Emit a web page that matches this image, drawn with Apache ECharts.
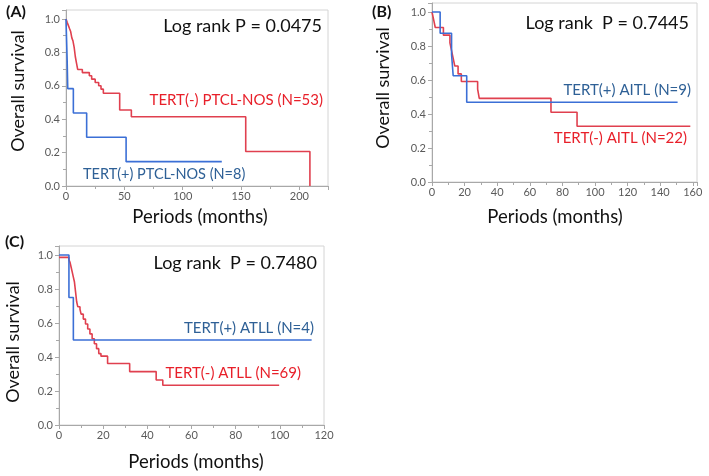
<!DOCTYPE html>
<html><head><meta charset="utf-8">
<script src="https://cdn.jsdelivr.net/npm/echarts@6/dist/echarts.min.js"></script>
<style>html,body{margin:0;padding:0;background:#fff}#c{width:709px;height:476px}</style>
</head><body><div id="c"></div>
<script>
// ---- Data (Kaplan–Meier step points: [months, survival]) ----
const redA = [[0,1.0],[1,0.98],[2,0.962],[3,0.943],[4,0.925],[5,0.887],[6,0.868],[7,0.83],[8,0.774],[9,0.736],[10,0.698],[14,0.679],[20,0.66],[22,0.64],[25,0.62],[28,0.60],[30,0.58],[32,0.555],[46,0.455],[56,0.415],[154,0.207],[209,0]];
const blueA = [[0,1.0],[0.5,0.875],[1,0.75],[1.5,0.583],[6.3,0.4375],[17.7,0.2917],[51.5,0.1458],[133.5,0.1458]];
const redB = [[0,1.0],[1,0.955],[2,0.909],[7,0.864],[11,0.818],[12,0.773],[13,0.727],[14,0.682],[16,0.636],[18,0.591],[28,0.546],[29,0.492],[73,0.41],[89,0.328],[158.5,0.328]];
const blueB = [[0,1.0],[5,0.875],[12,0.75],[13,0.625],[21.3,0.469],[150.7,0.469]];
const redC = [[0,0.986],[4.5,0.971],[5,0.957],[5.5,0.928],[6,0.899],[6.5,0.87],[7,0.841],[7.5,0.783],[8,0.725],[8.5,0.696],[9.5,0.681],[10,0.652],[11,0.623],[12,0.594],[13,0.565],[14,0.536],[15,0.507],[16,0.478],[17,0.449],[18,0.42],[19,0.405],[22,0.362],[32,0.314],[44,0.265],[47,0.234],[99.7,0.234]];
const blueC = [[0,1.0],[4.5,0.75],[6.5,0.5],[114.4,0.5]];

const panelTags = ['(A)','(B)','(C)'];
const logRank = ['Log rank P = 0.0475','Log rank  P = 0.7445','Log rank  P = 0.7480'];
const redNames = ['TERT(-) PTCL-NOS (N=53)','TERT(-) AITL (N=22)','TERT(-) ATLL (N=69)'];
const blueNames = ['TERT(+) PTCL-NOS (N=8)','TERT(+) AITL (N=9)','TERT(+) ATLL (N=4)'];
const xMax = [224.5, 162.6, 120];
const xInterval = [50, 20, 20];
const yTicks = [0, 0.2, 0.4, 0.6, 0.8, 1.0];
const yAxisName = 'Overall survival';
const xAxisName = 'Periods (months)';

const RED = '#e0404f', REDT = '#e8202a', BLUE = '#3b6fd6', BLUET = '#2e6096';
const FONT = 'Lato, "Open Sans", sans-serif';

const grids = [
  {left:66, top:10, width:262, height:176},
  {left:432, top:3, width:265, height:179},
  {left:59, top:246, width:265, height:179}
];
const yMax = [1.054, 1.053, 1.053];

const chart = echarts.init(document.getElementById('c'));
const xAxes = [], yAxes = [], series = [];
const lineAxis = {show:true, lineStyle:{color:'#a8a8a8', width:1}};
grids.forEach((g,i)=>{
  g.show = true; g.borderColor = '#d4d4d4'; g.borderWidth = 1;
  xAxes.push({type:'value', gridIndex:i, min:0, max:xMax[i], interval:xInterval[i],
    axisLine:lineAxis, splitLine:{show:false},
    axisTick:{show:true, length:4, lineStyle:{color:'#a8a8a8'}},
    minorTick:{show:true, splitNumber:2, length:3, lineStyle:{color:'#a8a8a8'}},
    axisLabel:{color:'#5a5a5a', fontSize:11, fontFamily:FONT, margin:5,
      formatter:v=> (v<=xMax[i]+1e-6 && v%xInterval[i]===0) ? String(v) : ''}});
  yAxes.push({type:'value', gridIndex:i, min:0, max:yMax[i], interval:0.2,
    axisLine:lineAxis, splitLine:{show:false},
    axisTick:{show:true, length:4, lineStyle:{color:'#a8a8a8'}},
    minorTick:{show:true, splitNumber:2, length:3, lineStyle:{color:'#a8a8a8'}},
    axisLabel:{color:'#5a5a5a', fontSize:11, fontFamily:FONT, margin:6,
      formatter:v=> yTicks.some(t=>Math.abs(t-v)<1e-6) ? v.toFixed(1) : ''}});
});
const datasets = [[redA,blueA],[redB,blueB],[redC,blueC]];
datasets.forEach((pair,i)=>{
  series.push({type:'line', xAxisIndex:i, yAxisIndex:i, data:pair[1], step:'end', symbol:'none',
    lineStyle:{color:BLUE, width:1.6}, z:3});
  series.push({type:'line', xAxisIndex:i, yAxisIndex:i, data:pair[0], step:'end', symbol:'none',
    lineStyle:{color:RED, width:1.6}, z:2});
});

function txt(x,y,s,size,color,opts){
  return Object.assign({type:'text', x:x, y:y, z:10,
    style:{text:s, fontSize:size, fontFamily:FONT, fill:color, textAlign:'left', textVerticalAlign:'middle'}}, opts||{});
}
function withAlign(t,align){ t.style.textAlign = align; return t; }
function tag(x,y,s){ return {type:'text', x:x, y:y, z:10, style:{text:s, fontSize:16, fontWeight:'bold', fontFamily:FONT, fill:'#111', textVerticalAlign:'middle'}}; }
const graphic = [
  tag(6,12,panelTags[0]),
  tag(372,12,panelTags[1]),
  tag(5,242,panelTags[2]),
  withAlign(txt(322,26,logRank[0],18,'#111'),'right'),
  withAlign(txt(689,23,logRank[1],18,'#111'),'right'),
  withAlign(txt(317,263,logRank[2],18,'#111'),'right'),
  withAlign(txt(323,100,redNames[0],15,REDT),'right'),
  txt(83,174,blueNames[0],14.5,BLUET),
  withAlign(txt(687,138,redNames[1],15,REDT),'right'),
  withAlign(txt(691,90,blueNames[1],15,BLUET),'right'),
  withAlign(txt(301,373,redNames[2],15,REDT),'right'),
  withAlign(txt(314,328,blueNames[2],15,BLUET),'right'),
  withAlign(txt(200,217,xAxisName,18.5,'#111'),'center'),
  withAlign(txt(555,217,xAxisName,18.5,'#111'),'center'),
  withAlign(txt(196,462,xAxisName,18.5,'#111'),'center'),
  withAlign(txt(18,91,yAxisName,18,'#111',{rotation:Math.PI/2}),'center'),
  withAlign(txt(383,88,yAxisName,18,'#111',{rotation:Math.PI/2}),'center'),
  withAlign(txt(13,342,yAxisName,18,'#111',{rotation:Math.PI/2}),'center')
];

chart.setOption({animation:false, backgroundColor:'#fff', grid:grids, xAxis:xAxes, yAxis:yAxes, series:series, graphic:graphic});
</script></body></html>
